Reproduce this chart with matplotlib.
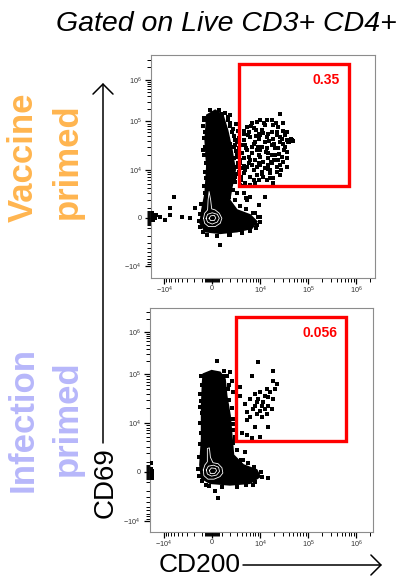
import numpy as np
import matplotlib
matplotlib.use("Agg")
import matplotlib.pyplot as plt
from matplotlib.patches import Rectangle, FancyArrowPatch
from matplotlib.ticker import FixedLocator, FixedFormatter, NullFormatter

plt.rcParams['font.family'] = ['Liberation Sans', 'DejaVu Sans']
plt.rcParams['mathtext.fontset'] = 'custom'
plt.rcParams['mathtext.rm'] = 'Liberation Sans'
plt.rcParams['mathtext.it'] = 'Liberation Sans:italic'
plt.rcParams['mathtext.bf'] = 'Liberation Sans:bold'

# ---------------- data (fluorescence intensities) ----------------
# Vaccine primed: events outside the dense core
vac_cd200 = [
    2.61e4, 8488, 1.38e4, 1.9e4, 3.06e4, 3.6e4, 4.6e4, 3.9e4, 3.06e4, 2.22e4,
    1.49e4, 1.08e4, 7196, 5134, 4319, 6088, 9215, 1.27e4, 1.75e4, 2.41e4,
    3.6e4, 2.83e4, 2.05e4, 1.49e4, 1.0e4, 6616, 4711, 3948, 5595, 7817,
    1.17e4, 1.75e4, 2.61e4, 3.6e4, 2.22e4, 1.62e4, 1.08e4, 7196, 5134, 4319,
    6088, 9215, 1.38e4, 1.9e4, 2.61e4, 8488, 1.27e4, 1.0e4, 6616, 1.49e4,
    3602, 3602, 4711, 7817, 1.9e4, 7817, 1.08e4, 1.9e4, 2.61e4, 1.27e4,
    9215, 5595, 4319, 1.62e4, 3.06e4, 8488, 5595, 4.2e4,
    6616, 1.0e4, 1.75e4, 2.41e4, 1.0e4, 1.38e4, 1.75e4, 2.61e4, 3.3e4, 2.05e4,
    1.38e4, 8488, 5134, 4319, 9215, 1.75e4, 2.41e4, 3.6e4, 1.49e4, 1.0e4,
    6616, 4711, 1.17e4, 1.62e4, 2.22e4, 7196, 6088, 3948, 3948, 3.6e4, 4.0e4,
    4500, 5500, 6500, 7500, 8000, 9000, 1.15e4, 1.3e4, 1.55e4, 1.7e4,
    2.0e4, 2.3e4, 2.5e4, 2.9e4, 3.2e4, 3.4e4, 4.4e4, 4.8e4, 1.1e4, 1.45e4,
    6000, 5000, 9500, 2.0e4, 2.7e4, 3.0e4, 1.2e4, 2.2e4, 4500, 8000,
    624, 971, 1970, 1970, 2210, 2708, 2464, 2989, 3105, 2708,
    3602, 2989, 4319, 6088, 5134, 1.27e4, 9215, 1970, 1345, 1153,
    1750, 795, 7817, 8488, -194, -862, -933, 1625, 1461, 1970,
    2464, 2989, 2464, 1750, 1.0e4, 3602, 4000, 4500, 5000, 3800,
    -1.85e4, -1.8e4, -1.82e4, -1.78e4, -1.75e4, -1.7e4, -1.6e4, -1.5e4, -1.2e4,
    -9520, -7440, -7692, -6297, -4091, -2549, -1834,
    -800, -900, -750, -850, -700, -800, -650, -750, -600, -800,
    -700, -1100, -1300, -1400, -1200, -900, -500,
    1300, 1700, 1900, 2300, 2500, 2600, 2900, 3100, 3200, 2800,
    2600, 2300, 2600, 3500, 5000, 7000, 9000, 1.0e4, 8000, 6000,
    4000, 2000, 500,
    3300, 3000, 3400, 3200, 2900, 3500, 3300, 3700,
]
vac_cd69 = [
    1.55e5, 9.8e4, 1.08e5, 8.4e4, 9.1e4, 6.1e4, 4.1e4, 3.8e4, 3.5e4, 5.2e4,
    5.6e4, 6.6e4, 7.2e4, 7.8e4, 5.6e4, 4.8e4, 4.4e4, 3.8e4, 3.2e4, 2.76e4,
    2.36e4, 1.86e4, 2.0e4, 2.18e4, 2.55e4, 3.0e4, 3.2e4, 2.18e4, 1.86e4, 1.58e4,
    1.47e4, 1.35e4, 1.25e4, 1.15e4, 9080, 8359, 9080, 9836, 1.15e4, 8359,
    7093, 6006, 6006, 6519, 7710, 1.15e4, 1.07e4, 1.86e4, 2.18e4, 1.71e4,
    1.35e4, 6006, 5071, 5071, 5071, 3.8e4, 3.0e4, 4.4e4, 4.8e4, 8.4e4,
    5.6e4, 6.1e4, 4.1e4, 9836, 1.47e4, 7710, 1.35e4, 4.1e4,
    9.1e4, 1.08e5, 1.08e5, 7.8e4, 5.2e4, 4.8e4, 6.1e4, 3.8e4, 3.0e4, 2.76e4,
    2.76e4, 2.55e4, 2.55e4, 1.71e4, 2.0e4, 2.0e4, 1.58e4, 1.71e4, 1.25e4, 1.25e4,
    1.25e4, 9836, 7093, 6519, 1.15e4, 6006, 4659, 1.07e4, 3.2e4, 4.2e4, 3.7e4,
    6.5e4, 5.2e4, 8.2e4, 3.5e4, 6.8e4, 2.9e4, 5.8e4, 2.3e4, 3.9e4, 1.45e4,
    3.5e4, 6.2e4, 2.1e4, 4.3e4, 2.6e4, 5.3e4, 4.4e4, 4.0e4, 8000, 1.05e4,
    1.6e4, 2.8e4, 1.4e4, 1.6e4, 1.0e4, 6.5e4, 9.5e4, 9.5e4, 1.2e4, 5.0e4,
    1.93e5, 1.55e5, 1.42e5, 9.1e4, 6.1e4, 4.1e4, 3.0e4, 2.18e4, 1.35e4, 7093,
    4659, 2955, 2955, 2422, 1950, 2422, 1332, 3565, 4659, -857,
    -1820, -3373, 455, -687, 1.86e5, 1.08e5, 2.55e4, 1.08e5, 4.8e4, 3.5e4,
    1.71e4, 1.15e4, 6006, 2422, 130, -1218, 4500, 3000, 2200, 6000,
    455, -33, 130, 290, -190, 130, -33, 290, 130,
    -190, 290, 963, 2422, 130, -33, 963,
    1.2e5, 8.0e4, 6.0e4, 4.5e4, 3.0e4, 2.0e4, 1.4e4, 9000, 6500, 4500,
    3000, 1500, 400, -300, -900, -1500, -1800,
    1.6e5, 1.25e5, 8.0e4, 7.0e4, 5.0e4, 3.3e4, 2.5e4, 1.8e4, 1.2e4, 8000,
    5500, 3500, 2000, 1200, 900, 500, 100, -400, -1000, -1300,
    -1600, -1800, -1900,
    4.5e4, 3.8e4, 2.8e4, 6.5e4, 9.0e4, 1.6e4, 9000, 7000,
]
# Vaccine primed: outline of the dense core population
vac_core_cd200 = [-522, 292, 1080, 1625, 2210, 2708, 2210, 1881, 2989, 6088,
                  8488, 6616, 2989, 795, -691, -1228, -1040, -691, -522, -691]
vac_core_cd69 = [1.42e5, 1.86e5, 1.42e5, 6.6e4, 2.55e4, 9836, 4263, 1950, 788, 289,
                 -357, -1036, -1412, -1613, -1412, -517, 788, 2955, 1.15e4, 4.1e4]
# Vaccine primed: density contours around the negative population
vac_contour_cd200 = [
    [-862, -750, -450, -400, -300, -150, -50, 292, 700, 971, 800, 292, -357, -750, -862],
    [-600, -450, 0, 500, 700, 500, 0, -450, -600],
    [-300, -150, 200, 350, 200, -150, -300],
]
vac_contour_cd69 = [
    [-33, 455, 788, 1950, 3258, 1950, 900, 788, 455, -33, -517, -857, -857, -517, -33],
    [-33, 350, 500, 350, -33, -400, -600, -400, -33],
    [-33, 200, 250, 0, -250, -250, -33],
]
vac_gate_cd200 = [3470, 7.25e5]
vac_gate_cd69 = [4424, 2.41e6]
vac_freq = 0.35

# Infection primed: events outside the dense core
inf_cd200 = [
    9215, 1.9e4, 6616, 1.9e4, 2.22e4, 3602, 1.38e4, 1.0e4, 7817, 1.27e4,
    1.49e4, 9215, 6088, 1.9e4, 4711, 7817, 1.08e4, 1.49e4, 7196, 1.0e4,
    1.75e4, 5134, 8488, 1.38e4, 6088, 1.08e4, 5134, 7817, 1.49e4, 5134,
    3948, 1.0e4, 3602, 6616, 1.17e4, 8488, 1.62e4, 2.05e4, 1.27e4,
    455, 1970, 2210, 1750, 2464, -1228, 1625, 2464, 4711, 4319,
    3602, 1.49e4, 292, 624, 1153, 2708, 2464, 2989, 7196,
    -1.85e4, -1.8e4, -1.85e4, -1.8e4, -1.75e4,
    -1100, -1000, -1200, -1100, -1000, -1200, -1100, -1200, -1300, -1400,
    -1300, -1000, -600,
    1200, 1600, 1800, 1900, 2200, 2400, 2600, 2700, 3000, 3800,
    5500, 7500, 1.05e4, 1.1e4, 8000, 5000, 3000, 1000, -300,
]
inf_cd69 = [
    1.9e5, 1.2e5, 9.2e4, 7.3e4, 6.3e4, 5.4e4, 5.0e4, 4.25e4, 3.9e4, 3.6e4,
    3.4e4, 3.1e4, 3.1e4, 3.1e4, 2.47e4, 2.28e4, 2.28e4, 2.28e4, 1.95e4, 1.8e4,
    1.95e4, 1.67e4, 1.55e4, 1.55e4, 1.32e4, 1.32e4, 1.13e4, 8259, 8259, 5500,
    5975, 5058, 3.6e4, 4649, 2.67e4, 2.67e4, 4.25e4, 5.0e4, 1.95e4,
    2.08e5, 1.1e5, 7.3e4, 5.0e4, 4.25e4, 2.1e4, 1.95e4, 9677, 2218, 1192,
    1011, -605, -2127, -3150, 9.2e4, 5058, 3581, 672, -1302,
    300, -200, 900, -600, 100,
    9.0e4, 6.0e4, 4.0e4, 2.8e4, 1.6e4, 1.0e4, 6000, 3500, 1500, 300,
    -400, -900, -1300,
    1.15e5, 9.0e4, 6.0e4, 3.0e4, 2.0e4, 1.2e4, 7000, 4000, 2500, 1200,
    900, 500, 0, -500, -1000, -1300, -1500, -1500, -1400,
]
inf_core_cd200 = [-862, -33, 795, 1345, 1542, 1970, 2210, 2464, 4319, 8488,
                  1.0e4, 6088, 1970, -194, -1040, -1228, -1040, -1040, -933]
inf_core_cd69 = [1.0e5, 1.2e5, 1.1e5, 7.9e4, 3.6e4, 1.43e4, 5500, 1776, 672, 189,
                 -443, -1119, -1302, -1119, -605, 672, 4649, 2.28e4, 6.8e4]
inf_contour_cd200 = [
    [-862, -700, -450, -450, -250, -150, 100, 600, 1000, 1100, 800, 200, -400, -800, -862],
    [-550, -350, 150, 650, 750, 450, -50, -450, -550],
    [-250, -50, 350, 450, 250, -150, -250],
]
inf_contour_cd69 = [
    [190, 672, 1000, 2700, 2800, 1500, 900, 800, 400, -100, -450, -700, -700, -350, 190],
    [190, 550, 650, 450, 50, -300, -400, -200, 190],
    [150, 380, 330, 100, -150, -150, 150],
]
inf_gate_cd200 = [2875, 6.2e5]
inf_gate_cd69 = [4101, 2.2e6]
inf_freq = 0.056

tick_values = [-1e4, 0, 1e4, 1e5, 1e6]
tick_labels = [r'$-10^{4}$', '0', r'$10^{4}$', r'$10^{5}$', r'$10^{6}$']

# ---------------- biexponential-like axis transforms ----------------
W = 2020.0      # width of the near-linear zone around zero
K = 0.86        # compression of the top CD69 decade
LN10 = np.log(10.0)


def biex(v):
    return np.arcsinh(np.asarray(v, dtype=float) / W) / LN10


def biex_inv(t):
    return W * np.sinh(np.asarray(t, dtype=float) * LN10)


def biex_y(v):
    t = biex(v)
    return np.where(t > 2, 2 + (t - 2) * K, t)


def biex_y_inv(g):
    g = np.asarray(g, dtype=float)
    return biex_inv(np.where(g > 2, 2 + (g - 2) / K, g))


decade_minor = [m * 10.0 ** e for e in (4, 5, 6) for m in range(2, 10)]
near_zero = [s * m * 100.0 for s in (-1, 1) for m in range(1, 8)]
linear_minor = [s * m * 1000.0 for s in (-1, 1) for m in range(1, 10)]
minor_ticks = decade_minor + near_zero + linear_minor


def style_axes(ax, xlim, ylim):
    ax.set_xscale('function', functions=(biex, biex_inv))
    ax.set_yscale('function', functions=(biex_y, biex_y_inv))
    ax.set_xlim(*xlim)
    ax.set_ylim(*ylim)
    for axis in (ax.xaxis, ax.yaxis):
        axis.set_major_locator(FixedLocator(tick_values))
        axis.set_major_formatter(FixedFormatter(tick_labels))
        axis.set_minor_locator(FixedLocator(minor_ticks))
        axis.set_minor_formatter(NullFormatter())
    ax.tick_params(which='major', direction='out', length=4.3, width=0.9,
                   color='black', labelsize=5.2, labelcolor='#333333')
    ax.tick_params(which='minor', direction='out', length=2.6, width=0.7,
                   color='black')
    ax.tick_params(axis='x', which='major', pad=0.8)
    ax.tick_params(axis='y', which='major', pad=2.5)
    for sp in ax.spines.values():
        sp.set_color('#8c8c8c')
        sp.set_linewidth(0.8)


def draw_panel(ax, cd200, cd69, core_x, core_y, cont_x, cont_y,
               gate_x, gate_y, freq, xlim, ylim, label_x):
    style_axes(ax, xlim, ylim)
    ax.fill(core_x, core_y, color='black', lw=1.2, zorder=2)
    ax.plot(cd200, cd69, 's', ms=2.8, mew=0, color='black', zorder=3)
    for cx, cy in zip(cont_x, cont_y):
        ax.plot(cx, cy, color='white', lw=0.6, zorder=4)
    gate = Rectangle((gate_x[0], gate_y[0]), gate_x[1] - gate_x[0],
                     gate_y[1] - gate_y[0], fill=False, edgecolor='#ff0000',
                     lw=2.4, joinstyle='miter', zorder=5)
    ax.add_patch(gate)
    ax.text(label_x, 0.89, f'{freq:g}', transform=ax.transAxes, ha='right',
            va='center', color='#ff0000', fontsize=10, fontweight='bold',
            zorder=6)


fig = plt.figure(figsize=(4.05, 5.77), dpi=100)
FW, FH = 405.0, 577.0


def fig_rect(left, top, right, bottom):
    return [left / FW, 1 - bottom / FH, (right - left) / FW, (bottom - top) / FH]


ax_vac = fig.add_axes(fig_rect(151, 55, 375, 278))
ax_inf = fig.add_axes(fig_rect(150, 308, 373, 532))

draw_panel(ax_vac, vac_cd200, vac_cd69, vac_core_cd200, vac_core_cd69,
           vac_contour_cd200, vac_contour_cd69, vac_gate_cd200, vac_gate_cd69,
           vac_freq, (-1.9e4, 2.5e6), (-1.76e4, 3.97e6), 0.844)
draw_panel(ax_inf, inf_cd200, inf_cd69, inf_core_cd200, inf_core_cd69,
           inf_contour_cd200, inf_contour_cd69, inf_gate_cd200, inf_gate_cd69,
           inf_freq, (-1.96e4, 2.26e6), (-1.69e4, 3.68e6), 0.839)

# ---------------- figure annotations ----------------
fig.text(226 / FW, 1 - 31 / FH, 'Gated on Live CD3+ CD4+', ha='center',
         va='baseline', style='italic', fontsize=20.5)

orange = '#ffb54f'
lavender = '#b7b7fa'
for text, bx, cy, col in [('Vaccine', 33, 157, orange), ('primed', 77, 161, orange),
                          ('Infection', 33, 420, lavender), ('primed', 77, 418, lavender)]:
    fig.text(bx / FW, 1 - cy / FH, text, rotation=90, rotation_mode='anchor',
             ha='center', va='baseline', color=col, fontsize=25,
             fontweight='bold')

fig.text(113 / FW, 1 - 483 / FH, 'CD69', rotation=90, rotation_mode='anchor',
         ha='center', va='baseline', fontsize=20)
fig.text(200 / FW, 1 - 572 / FH, 'CD200', ha='center', va='baseline',
         fontsize=19)

arrow = dict(arrowstyle='->,head_length=0.6,head_width=0.6', lw=1.1,
             color='black', mutation_scale=12, shrinkA=0, shrinkB=0)
fig.add_artist(FancyArrowPatch(
    (103 / FW, 1 - 443 / FH), (103 / FW, 1 - 83 / FH),
    transform=fig.transFigure, **arrow))
fig.add_artist(FancyArrowPatch(
    (243 / FW, 1 - 565 / FH), (382 / FW, 1 - 565 / FH),
    transform=fig.transFigure, **arrow))

fig.savefig('out.png', dpi=100)
